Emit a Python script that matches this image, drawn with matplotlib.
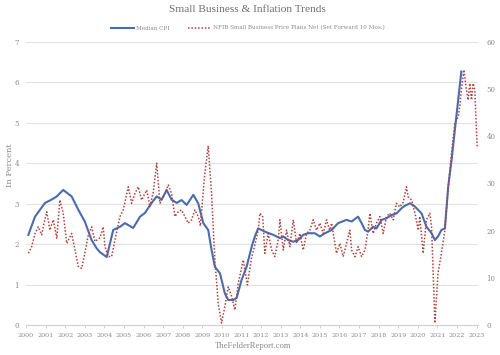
import matplotlib
matplotlib.use("Agg")
import matplotlib.pyplot as plt
from matplotlib.lines import Line2D

title = "Small Business & Inflation Trends"
cpi_label = "Median CPI"
nfib_label = "NFIB Small Business Price Plans Net (Set Forward 10 Mos.)"
footer = "TheFelderReport.com"
ylabel = "In Percent"
year_ticks = list(range(2000, 2024))
left_ticks = [0, 1, 2, 3, 4, 5, 6, 7]
right_ticks = [0, 10, 20, 30, 40, 50, 60]

cpi_dates = [2000.12, 2000.46, 2000.97, 2001.3, 2001.57, 2001.9, 2002.33, 2002.67, 2003.0,
             2003.35, 2003.6, 2003.78, 2004.12, 2004.45, 2004.8, 2005.05, 2005.47, 2005.82,
             2006.07, 2006.41, 2006.67, 2006.92, 2007.18, 2007.43, 2007.69, 2007.94, 2008.2,
             2008.54, 2008.79, 2009.05, 2009.3, 2009.47, 2009.64, 2009.9, 2010.15, 2010.32,
             2010.58, 2010.75, 2011.0, 2011.26, 2011.52, 2011.68, 2011.85, 2012.19, 2012.62,
             2012.96, 2013.13, 2013.38, 2013.64, 2013.89, 2014.15, 2014.4, 2014.74, 2015.0,
             2015.26, 2015.6, 2015.93, 2016.36, 2016.62, 2016.95, 2017.13, 2017.3, 2017.46,
             2017.72, 2017.89, 2018.15, 2018.4, 2018.66, 2018.91, 2019.17, 2019.34, 2019.6,
             2019.85, 2020.19, 2020.44, 2020.7, 2020.87, 2021.03, 2021.2, 2021.38, 2021.55,
             2021.72, 2021.89, 2022.06, 2022.22]
cpi_values = [2.23, 2.68, 3.02, 3.1, 3.18, 3.34, 3.18, 2.85, 2.56,
              2.1, 1.9, 1.8, 1.68, 2.35, 2.43, 2.52, 2.4, 2.68,
              2.77, 3.02, 3.18, 3.1, 3.34, 3.1, 3.02, 3.09, 2.97,
              3.22, 3.01, 2.52, 2.35, 1.86, 1.44, 1.28, 0.78, 0.62,
              0.62, 0.67, 1.11, 1.44, 1.94, 2.19, 2.39, 2.31, 2.23,
              2.15, 2.19, 2.1, 2.06, 2.1, 2.23, 2.27, 2.27, 2.19,
              2.27, 2.35, 2.52, 2.6, 2.56, 2.68, 2.52, 2.35, 2.31,
              2.43, 2.39, 2.6, 2.64, 2.72, 2.76, 2.89, 2.95, 3.01,
              2.93, 2.76, 2.43, 2.27, 2.1, 2.19, 2.35, 2.39, 3.42,
              4.08, 4.83, 5.57, 6.27]

nfib_dates = [2000.12, 2000.29, 2000.46, 2000.63, 2000.8, 2000.88, 2001.06, 2001.22, 2001.39,
              2001.57, 2001.73, 2001.9, 2002.08, 2002.33, 2002.5, 2002.67, 2002.84, 2003.0,
              2003.18, 2003.35, 2003.52, 2003.78, 2003.94, 2004.03, 2004.2, 2004.37, 2004.54,
              2004.8, 2004.96, 2005.22, 2005.39, 2005.56, 2005.73, 2005.9, 2006.16, 2006.33,
              2006.5, 2006.67, 2006.84, 2007.09, 2007.26, 2007.43, 2007.6, 2007.77, 2007.94,
              2008.11, 2008.28, 2008.45, 2008.62, 2008.79, 2008.9, 2009.1, 2009.3, 2009.47,
              2009.64, 2009.81, 2009.98, 2010.15, 2010.32, 2010.5, 2010.66, 2010.83, 2011.09,
              2011.3, 2011.5, 2011.68, 2011.85, 2011.94, 2012.08, 2012.19, 2012.36, 2012.54,
              2012.7, 2012.87, 2012.96, 2013.13, 2013.3, 2013.47, 2013.64, 2013.81, 2013.98,
              2014.15, 2014.32, 2014.49, 2014.66, 2014.83, 2015.0, 2015.17, 2015.34, 2015.5,
              2015.6, 2015.68, 2015.85, 2016.02, 2016.19, 2016.36, 2016.53, 2016.62, 2016.79,
              2016.95, 2017.13, 2017.3, 2017.46, 2017.55, 2017.72, 2017.89, 2018.06, 2018.23,
              2018.4, 2018.57, 2018.74, 2018.91, 2019.08, 2019.25, 2019.42, 2019.5, 2019.68,
              2019.85, 2020.02, 2020.1, 2020.27, 2020.44, 2020.61, 2020.7, 2020.87, 2021.03,
              2021.2, 2021.38, 2021.55, 2021.72, 2021.89, 2022.06, 2022.14, 2022.22, 2022.35,
              2022.48, 2022.57, 2022.65, 2022.74, 2022.82, 2022.91, 2022.96, 2023.03]
nfib_values = [15.2, 16.6, 19.4, 20.8, 19.1, 20.8, 24.0, 20.1, 22.3,
               18.4, 26.5, 23.7, 17.3, 19.4, 15.9, 12.4, 12.0, 15.2,
               19.1, 20.8, 17.7, 18.5, 20.8, 16.6, 14.5, 14.5, 18.0,
               23.0, 24.4, 29.3, 25.8, 27.9, 29.3, 26.5, 28.6, 25.1,
               28.3, 34.3, 25.8, 27.9, 29.7, 27.9, 23.0, 24.0, 24.4,
               23.0, 21.6, 22.3, 24.4, 23.0, 21.0, 31.0, 38.0, 27.9,
               13.8, 4.6, 0.4, 3.9, 8.1, 6.0, 3.2, 8.8, 13.8,
               8.5, 14.0, 17.0, 20.1, 23.7, 23.0, 15.2, 19.4, 15.9,
               14.5, 18.0, 22.3, 15.9, 20.1, 16.6, 22.3, 17.3, 19.4,
               15.9, 19.4, 20.1, 22.3, 20.1, 21.6, 19.4, 22.3, 20.1,
               21.6, 19.4, 15.2, 17.3, 14.5, 17.3, 20.1, 15.9, 14.5,
               16.6, 14.5, 15.9, 20.1, 23.7, 19.4, 21.6, 23.0, 19.4,
               23.0, 23.7, 22.3, 25.8, 25.0, 26.0, 29.3, 27.2, 26.5,
               23.7, 20.1, 23.0, 15.2, 22.3, 23.7, 20.8, 0.4, 11.0,
               15.2, 20.1, 29.3, 36.4, 42.8, 44.2, 46.3, 49.8, 54.1,
               49.8, 47.7, 51.2, 47.7, 51.2, 49.8, 44.2, 37.8]

plt.rcParams['font.family'] = ['DejaVu Serif']
txt = '#8a8a8a'
blue = '#4a6cae'
red = '#b0403c'

fig = plt.figure(figsize=(5, 3.55), dpi=100)
ax = fig.add_axes([26 / 500, 1 - 325 / 355, 452 / 500, (325 - 42) / 355])
ax2 = ax.twinx()

ax.plot(cpi_dates, cpi_values, color=blue, lw=1.5, zorder=3)
ax2.plot(nfib_dates, nfib_values, color=red, lw=1.1, ls=(0, (1, 1.2)), zorder=4)

ax.set_xlim(2000.0, 2023.07)
ax.set_ylim(0, 7)
ax2.set_ylim(0, 60)
ax.set_yticks(left_ticks)
ax2.set_yticks(right_ticks)
ax.set_xticks(year_ticks)
ax.set_xticklabels([str(y) for y in year_ticks])

ax.grid(axis='y', color='#e2e2e2', lw=0.8)
ax.set_axisbelow(True)
for a in (ax, ax2):
    for s in a.spines.values():
        s.set_visible(False)
ax.spines['bottom'].set_visible(True)
ax.spines['bottom'].set_color('#d0d0d0')
ax.spines['bottom'].set_linewidth(0.8)

ax.tick_params(axis='x', colors='#c8c8c8', length=2.5, width=0.6, labelsize=4.6,
               labelcolor=txt, pad=3)
ax.tick_params(axis='y', length=0, labelsize=5, labelcolor=txt, pad=5)
ax2.tick_params(axis='y', length=0, labelsize=5, labelcolor=txt, pad=6)

fig.text(10 / 500, 1 - 165 / 355, ylabel, rotation=90, ha='center', va='center',
         fontsize=6, color=txt)
fig.text(247 / 500, 1 - 9 / 355, title, ha='center', va='center', fontsize=8.2,
         color='#6e6e6e', family=['Liberation Serif'])
fig.text(253 / 500, 1 - 346 / 355, footer, ha='center', va='center', fontsize=6.2,
         color=txt, family=['Liberation Serif'])

handles = [Line2D([], [], color=blue, lw=1.5),
           Line2D([], [], color=red, lw=1.1, ls=(0, (1, 1.2)))]
fig.legend(handles, [cpi_label, nfib_label], loc='center', bbox_to_anchor=(248 / 500, 1 - 28 / 355),
           ncol=2, frameon=False, fontsize=4.1, labelcolor=txt, handlelength=4.0,
           handletextpad=0.4, columnspacing=3.2)

fig.savefig('out.png', dpi=100)
